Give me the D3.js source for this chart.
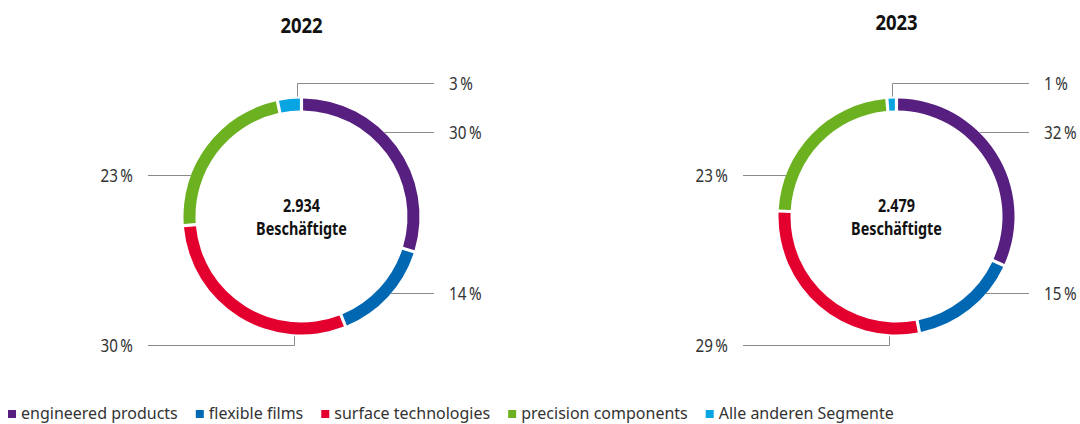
<!DOCTYPE html>
<html>
<head>
<meta charset="utf-8">
<script src="https://cdn.jsdelivr.net/npm/d3@7"></script>
<style>
  html, body { margin: 0; padding: 0; background: #fff; }
  svg { display: block; }
</style>
</head>
<body>
<svg id="chart"></svg>
<script>
const years = ['2022', '2023'];
const segments = ['engineered products', 'flexible films', 'surface technologies', 'precision components', 'Alle anderen Segmente'];
const shares2022 = [30, 14, 30, 23, 3];
const shares2023 = [32, 15, 29, 23, 1];
const employees = [2934, 2479];
const colors = ['#571f80', '#0068b3', '#e3002f', '#6bb120', '#09a5e3'];

const width = 1080, height = 424;
const rOuter = 118, rInner = 106;
const font = '"Noto Sans", sans-serif';

const de = d3.formatLocale({ decimal: ',', thousands: '.', grouping: [3], currency: ['', ' €'] });
const fmt = de.format(',');

const svg = d3.select('#chart').attr('width', width).attr('height', height);

const x = d3.scalePoint().domain(years).range([301.5, 896.5]);

// narrow text: no condensed face installed, so squeeze horizontally
function narrowText(parent, tx, ty, sx) {
    return parent.append('text')
        .attr('transform', `translate(${tx},${ty}) scale(${sx},1)`)
        .attr('font-family', font);
}

// leader layout per segment: side + offset of the line from the centre
const leaders = [
    { side: 'right', dy: -84 },
    { side: 'right', dy: 77 },
    { side: 'left', dy: 129, elbowDx: -7 },
    { side: 'left', dy: -41 },
    { side: 'right', dy: -133, elbowDx: -4 }
];

const pie = d3.pie().sort(null).value(d => d.v).padAngle(0.02);
const arc = d3.arc().innerRadius(rInner).outerRadius(rOuter);

[shares2022, shares2023].forEach((shares, i) => {
    const cx = x(years[i]);
    const cy = 216.5;
    const data = shares.map((v, j) => ({ v, name: segments[j], color: colors[j], lead: leaders[j] }));

    // Title
    narrowText(svg, cx, i === 0 ? 33 : 30, 0.88)
        .attr('text-anchor', 'middle')
        .attr('font-weight', 'bold')
        .attr('font-size', '21px')
        .attr('fill', '#111')
        .text(years[i]);

    const g = svg.append('g').attr('transform', `translate(${cx},${cy})`);

    g.selectAll('path')
        .data(pie(data))
        .enter()
        .append('path')
        .attr('d', arc)
        .attr('fill', d => d.data.color);

    // centre label
    narrowText(g, 0, -5, 0.8)
        .attr('text-anchor', 'middle')
        .attr('font-weight', 'bold')
        .attr('font-size', '18px')
        .attr('fill', '#111')
        .text(fmt(employees[i]));
    narrowText(g, 0, 18.5, 0.8)
        .attr('text-anchor', 'middle')
        .attr('font-weight', 'bold')
        .attr('font-size', '18px')
        .attr('fill', '#111')
        .text('Beschäftigte');

    // leader lines + percentage labels
    data.forEach(d => {
        const L = d.lead;
        const sign = L.side === 'right' ? 1 : -1;
        const xEnd = sign > 0 ? 132.5 : -153.5;
        let pts;
        if (L.elbowDx !== undefined) {
            const ringY = Math.sign(L.dy) * Math.sqrt(rOuter * rOuter - L.elbowDx * L.elbowDx);
            const yStart = ringY + Math.sign(L.dy) * 2;
            pts = [[L.elbowDx, yStart], [L.elbowDx, L.dy], [xEnd, L.dy]];
        } else {
            const ringX = sign * Math.sqrt(rOuter * rOuter - L.dy * L.dy);
            pts = [[ringX, L.dy], [xEnd, L.dy]];
        }
        g.append('path')
            .attr('d', d3.line()(pts))
            .attr('fill', 'none')
            .attr('stroke', '#8a8a8a')
            .attr('stroke-width', 1);

        narrowText(g, sign > 0 ? xEnd + 15 : xEnd - 15, L.dy, 0.8)
            .attr('dy', '0.36em')
            .attr('text-anchor', sign > 0 ? 'start' : 'end')
            .attr('font-size', '19px')
            .attr('fill', '#333')
            .text(d.v + '\u2009%');
    });
});

// Legend
const legend = svg.append('g').attr('transform', 'translate(8,419)');
let lx = 0;
segments.forEach((s, j) => {
    const item = legend.append('g').attr('transform', `translate(${lx},0)`);
    item.append('rect')
        .attr('x', 0)
        .attr('y', -9)
        .attr('width', 8)
        .attr('height', 8)
        .attr('fill', colors[j]);
    const t = item.append('text')
        .attr('x', 13)
        .attr('y', 0)
        .attr('font-family', font)
        .attr('font-size', '16px')
        .attr('fill', '#333')
        .text(s);
    lx += 13 + t.node().getComputedTextLength() + 18;
});
</script>
</body>
</html>
